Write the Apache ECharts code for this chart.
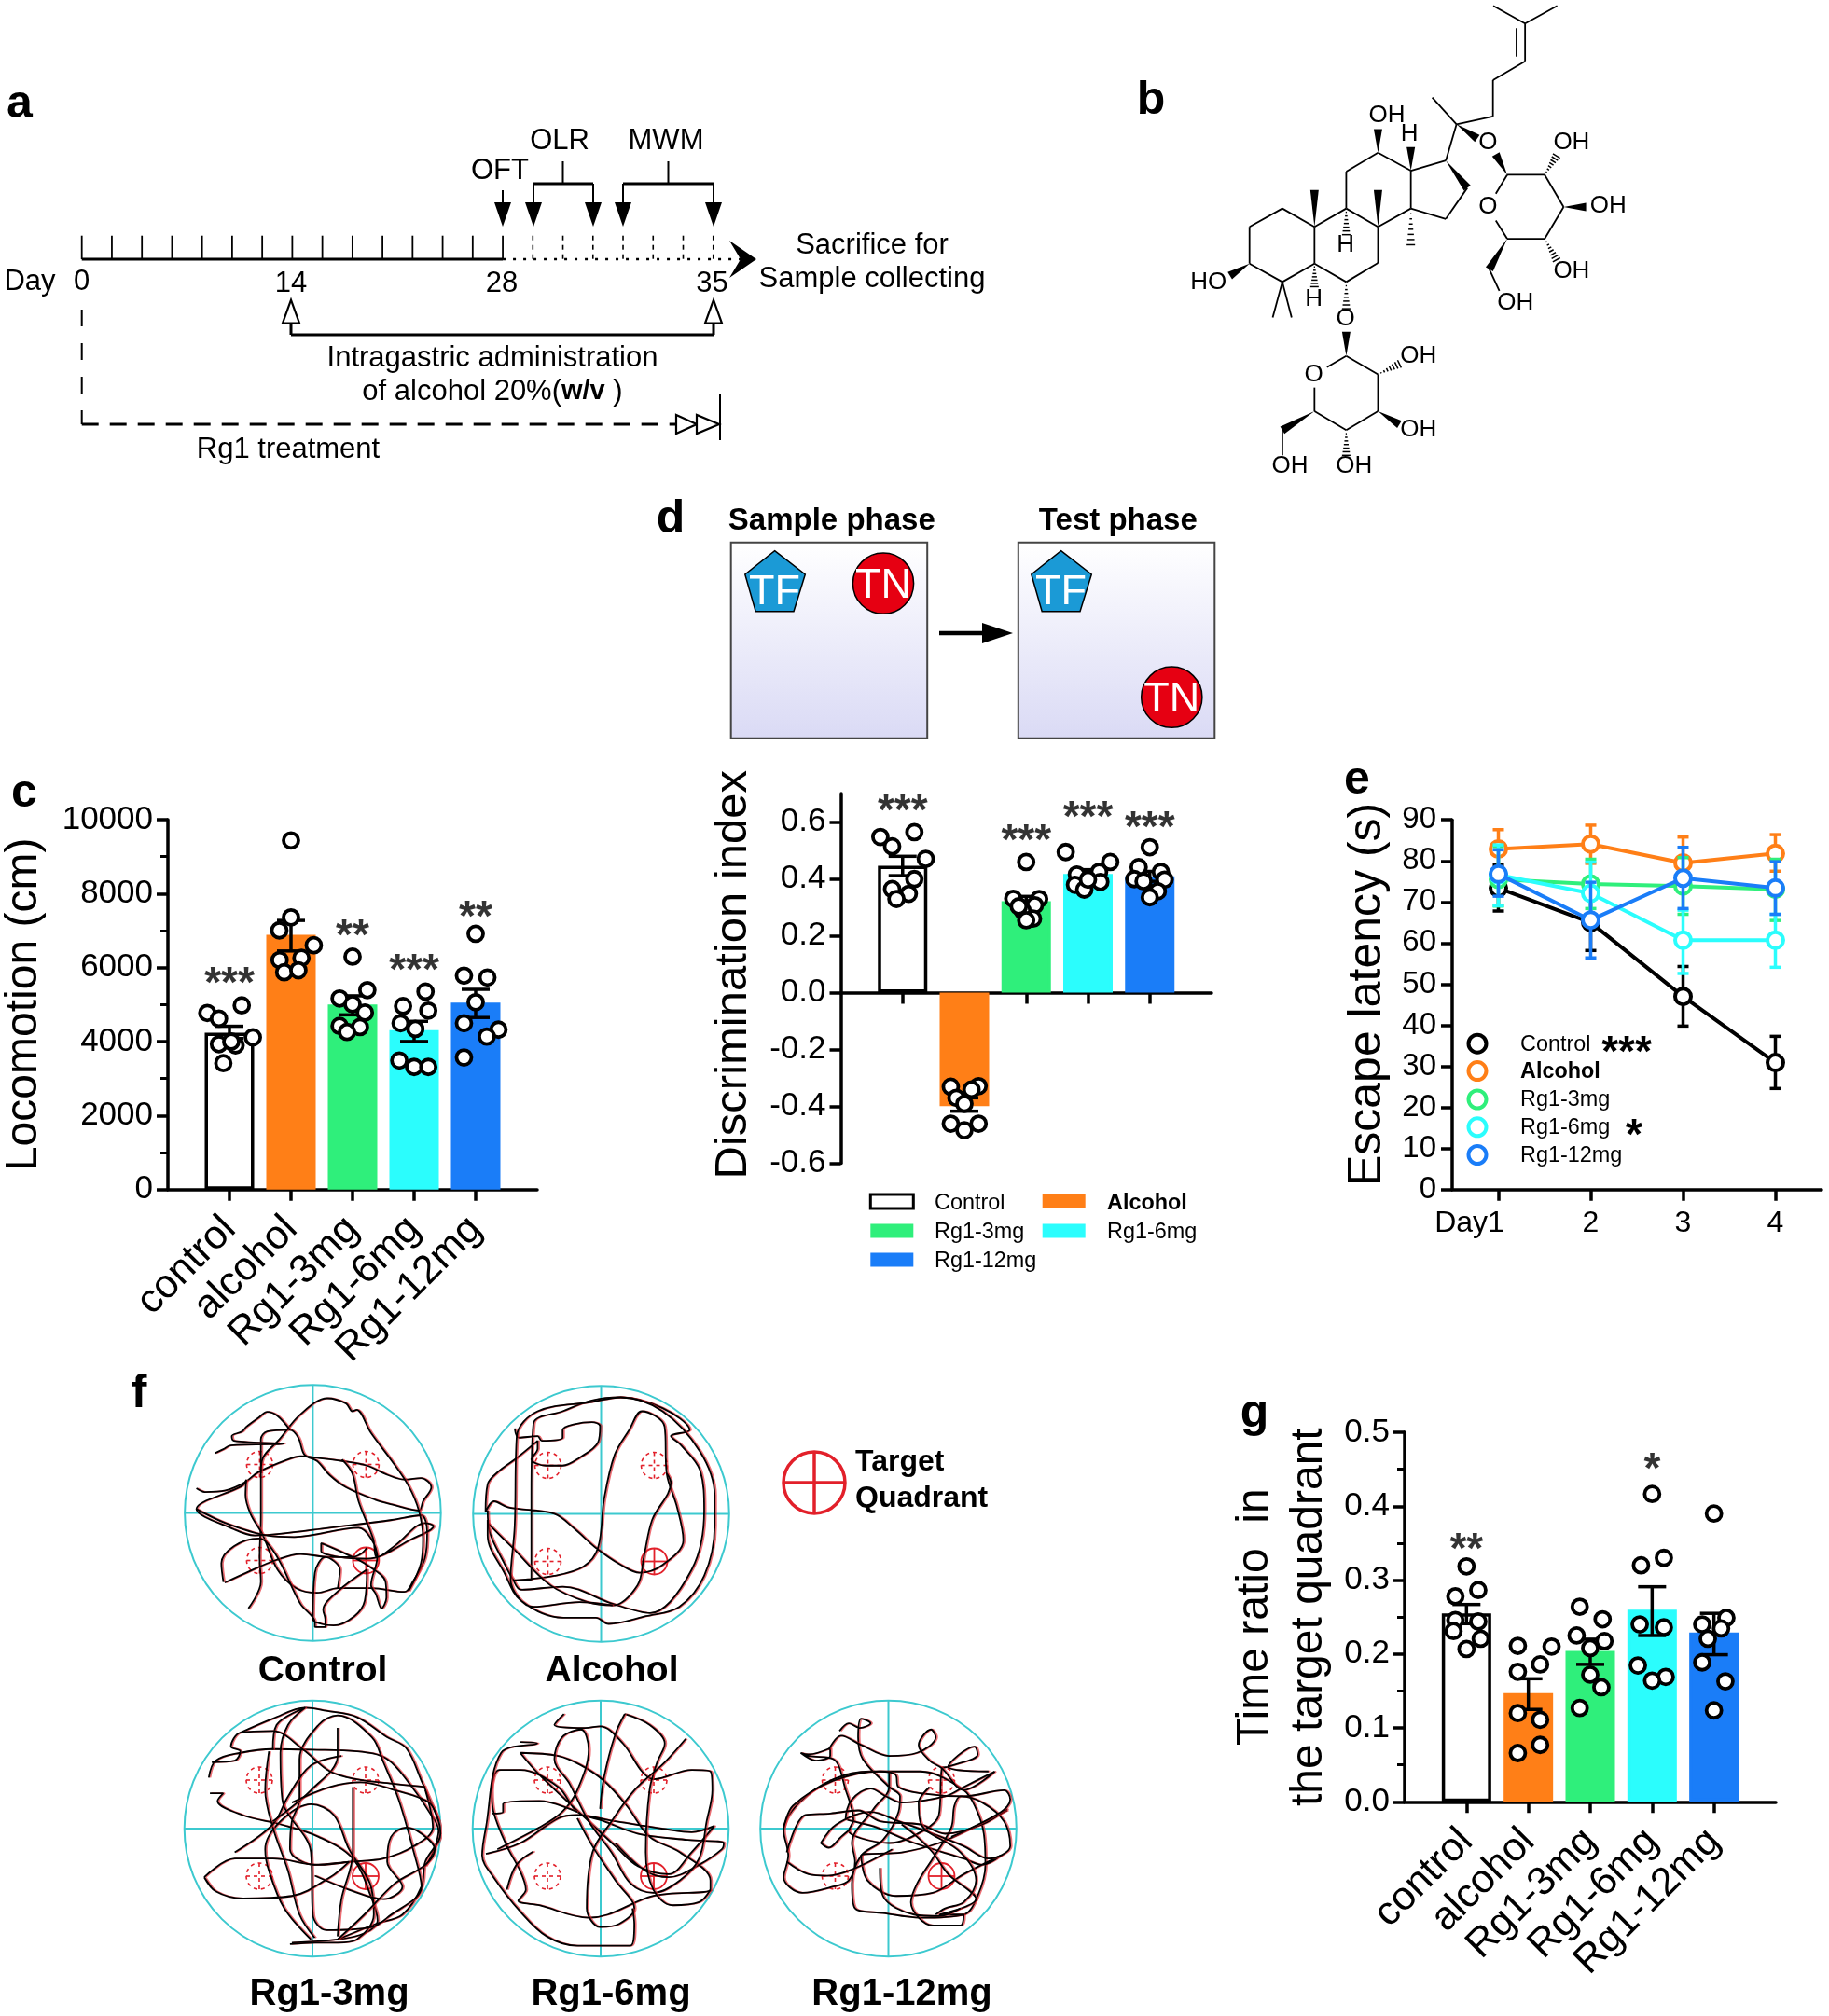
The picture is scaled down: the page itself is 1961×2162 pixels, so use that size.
<!DOCTYPE html>
<html><head><meta charset="utf-8"><style>html,body{margin:0;padding:0;background:#fff}#m{width:1961px;height:2162px}</style>
<script src="https://cdn.jsdelivr.net/npm/echarts@6/dist/echarts.min.js"></script></head>
<body><div id="m"></div><script>
// ---------- data ----------
const groupsLower=['control','alcohol','Rg1-3mg','Rg1-6mg','Rg1-12mg'];
const groupPositions=[0,1,2,3,4];
const cMeans=[4240,6885,5000,4311,5052];
const cErrHigh=[4415,7275,5237,4548,5412];
const cErrLow=[4085,6450,4723,4003,4651];
const cDots=[[-.36,4775],[-.17,4620],[.2,4980],[.38,4116],[-.17,3930],[.1,3900],[-.1,3416],[.03,4000],
[1,9436],[1,7357],[.81,7007],[1.37,6606],[.815,6205],[1.17,6266],[.89,5875],[1.12,5927],
[2,6297],[2.24,5392],[1.79,5165],[2,5011],[2.2,4785],[1.79,4425],[2.12,4394],[1.91,4260],
[3.185,5351],[2.82,4960],[3.23,4836],[2.78,4497],[3.02,4342],[2.76,3488],[3,3313],[3.23,3313],
[4,6915],[3.81,5783],[4.19,5731],[4,5063],[3.81,4497],[4.37,4322],[4.18,4136],[3.81,3570]];
const cStars=[[0,5783,'***'],[2,7069,'**'],[3,6123,'***'],[4,7584,'**']];

const dMeans=[.446,-.399,.321,.417,.409];
const dErrHigh=[.479,-.37,.338,.432,.426];
const dErrLow=[.411,-.417,.303,.403,.391];
const dDots=[[-.36,.547],[.19,.564],[-.17,.514],[.375,.47],[.19,.399],[-.17,.364],[.1,.347],[-.1,.329],
[.78,-.331],[1.23,-.329],[1.115,-.341],[.87,-.37],[1,-.391],[.78,-.461],[1.23,-.461],[1,-.484],
[2,.459],[1.79,.33],[2.21,.329],[2.14,.307],[1.94,.288],[2.11,.26],[2,.254],[1.88,.303],
[2.64,.494],[3.36,.459],[3.18,.424],[2.82,.415],[2.79,.379],[3.2,.389],[2.94,.362],[3,.397],
[4,.511],[3.82,.441],[4.18,.424],[3.75,.399],[4.24,.397],[3.9,.391],[4.13,.356],[4,.335]];
const dStars=[[0,.666,'***'],[2,.561,'***'],[3,.643,'***'],[4,.608,'***']];
const dYTicks=[-.6,-.4,-.2,0,.2,.4,.6];

const gMeans=[.255,.147,.204,.26,.229];
const gErrHigh=[.267,.1665,.22,.291,.255];
const gErrLow=[.241,.125,.186,.225,.199];
const gDots=[[0,.3186],[.19,.2866],[-.18,.278],[-.18,.246],[.19,.244],[-.21,.231],[.23,.2206],[0,.2067],
[.83,.211],[1.375,.21],[1.19,.186],[.83,.176],[.83,.12],[1.19,.111],[1.19,.077],[.83,.066],
[1.83,.264],[2.2,.247],[1.78,.225],[2.23,.2175],[2,.208],[2,.172],[2.18,.155],[1.83,.127],
[3,.4165],[3.19,.33],[2.82,.32],[2.8,.24],[3.19,.236],[2.77,.1845],[3.22,.169],[3,.164],
[4,.39],[4.2,.249],[3.81,.24],[4.115,.2345],[3.9,.2206],[3.81,.1887],[4.185,.163],[4,.1237]];
const gStars=[[0,.352,'**'],[3,.46,'*']];

const eDays=[1,2,3,4];
const eNames=['Control','Alcohol','Rg1-3mg','Rg1-6mg','Rg1-12mg'];
const eControl=[73.4,65,47,30.9],eControlHigh=[79,72,54.3,37.3],eControlLow=[67.8,58.2,39.8,24.6];
const eAlcohol=[82.9,84.1,79.5,81.8],eAlcoholHigh=[87.6,88.7,85.8,86.4],eAlcoholLow=[78,79.4,73,77.5];
const eRg3=[75.5,74.4,73.9,73.1],eRg3High=[83.5,80.4,80.8,80.4],eRg3Low=[69,68.4,67,65.5];
const eRg6=[76.6,72.1,60.7,60.7],eRg6High=[83.9,79.7,68,67],eRg6Low=[69.1,64.7,52.6,54.1];
const eRg12=[76.8,65.6,75.8,73.4],eRg12High=[82.7,74.8,83.3,79.8],eRg12Low=[71.4,56.4,68.4,67];

// traces, in each arena's own reading units
const trackControl=[[[180,378],[200,390],[250,385],[295,360],[330,325],[400,285],[430,275],[470,280],[530,290],[590,305],[640,335],[680,350],[720,345],[745,375],[725,420],[715,450],[650,430],[610,415],[540,375],[500,335],[470,290],[440,270],[425,215],[405,190],[350,195],[335,220],[335,330],[335,470],[332,600],[335,680],[305,765]],
[[300,350],[298,400],[310,460],[340,530],[375,640],[420,700],[470,715],[520,700],[600,700],[680,712],[700,680],[730,600],[735,520],[720,465],[650,480],[500,505],[380,525],[320,530],[270,510],[180,445],[290,370],[300,350]],
[[180,445],[250,490],[350,530],[415,535],[570,505],[600,540],[615,600],[600,690],[612,720],[625,765],[637,730],[635,680],[590,625],[540,590],[480,555],[480,580],[525,600],[590,605],[700,540],[750,500],[730,490],[660,560],[615,600],[605,540],[570,420],[555,330],[530,285]],
[[248,682],[300,650],[370,610],[430,590],[500,600],[555,600],[575,590],[590,570]],
[[245,680],[240,620],[270,565],[330,540],[370,590],[430,750],[465,810],[465,825],[490,825],[490,800],[485,770],[520,710],[590,640],[585,740],[560,790],[510,820],[480,815],[460,800],[465,650],[490,600],[525,640],[520,700]],
[[335,330],[340,280],[380,220],[430,140],[495,88],[540,105],[555,130],[565,125],[600,200],[650,290],[690,370],[715,450],[725,540],[720,620],[690,710]],
[[225,265],[245,252],[262,240],[390,235],[270,225],[265,210],[290,195],[300,180],[330,150],[350,132],[375,145],[405,190]]];
const trackAlcohol=[[[945,185],[955,215],[1000,210],[1010,225],[1060,215],[1060,190],[1130,165],[1150,178],[1145,230],[1100,280],[1060,305],[1020,305],[985,285],[1000,250],[1000,225],[950,280],[905,325],[880,365],[875,455],[895,420],[930,440],[1040,460],[1090,510],[1140,570],[1200,625],[1245,650],[1300,625],[1350,545],[1335,440],[1310,330],[1305,180],[1250,130],[1220,190],[1185,270],[1160,410],[1145,570],[1110,630],[1040,660],[940,675],[985,675],[985,400],[990,170],[1060,130],[1130,95],[1200,85],[1300,120],[1365,190],[1320,210],[1345,240],[1390,320],[1400,450],[1370,640],[1270,780],[1180,750],[1060,695],[960,705],[940,670],[920,620],[885,520],[880,450]],
[[880,490],[940,570],[1030,690],[1120,745],[1180,755],[1240,690],[1255,600],[1275,480],[1320,360],[1310,330]],
[[880,480],[880,530],[920,650],[960,740],[1060,795],[1140,795],[1170,815],[1260,790],[1340,760],[1400,660],[1425,500],[1425,400],[1390,260],[1300,130],[1200,85],[1130,100],[1000,130],[950,210],[945,500],[935,670],[990,760],[1100,745],[1180,755]]];
const trackRg3=[[[132,260],[150,205],[215,180],[300,168],[400,170],[520,175],[600,200],[665,290],[710,370],[735,430],[720,500],[700,545]],
[[135,310],[170,310],[155,335],[220,380],[320,410],[420,450],[510,520],[560,650],[575,720],[540,760],[470,780],[350,790]],
[[215,115],[300,70],[385,35],[440,45],[520,65],[600,130],[650,165],[690,270],[735,400],[740,440],[700,530],[690,610],[640,700],[570,730],[470,780]],
[[345,795],[410,790],[470,790],[520,780],[565,700],[555,600],[500,490],[460,380],[400,345],[320,400],[280,490],[290,560],[330,680],[400,780]],
[[300,170],[310,90],[385,35],[340,90],[320,180],[325,330],[400,500],[405,700],[440,750],[560,740],[600,710],[690,610],[670,500],[630,330],[590,210],[560,130],[470,60],[420,90],[370,200],[370,330],[350,400],[345,490],[410,540],[500,530],[590,520],[670,480],[720,420],[700,300]],
[[290,175],[280,300],[300,420],[340,560],[370,700],[410,775]],
[[120,580],[200,520],[300,520],[420,540],[500,530],[450,580],[350,640],[220,648],[150,625],[120,580],[140,615]],
[[410,575],[500,620],[590,650],[640,610],[600,530],[610,450],[650,420],[690,440],[725,490],[700,540],[620,600],[540,700],[470,780]],
[[510,290],[510,500],[480,650],[470,770]],
[[480,190],[400,220],[340,320],[300,410],[200,500]],[[300,400],[400,300],[470,190],[470,100]],
[[140,210],[200,205],[215,175],[190,160],[215,115],[300,110],[380,170],[450,240],[520,265],[620,280],[700,290]],
[[350,340],[450,290],[530,275],[620,300],[710,340],[735,400]]];
const trackRg6=[[[860,505],[950,470],[1050,390],[1100,380],[1200,400],[1330,425],[1400,435],[1460,415],[1400,500],[1340,570],[1260,545],[1200,480],[1130,400],[1000,250],[950,180],[1050,190],[1110,220],[1170,270],[1230,350],[1290,450],[1370,500],[1450,590],[1450,620],[1300,640],[1180,700],[1130,710],[1000,670],[945,655],[965,620],[950,560],[915,480],[880,370],[875,300],[895,235],[950,235],[1050,290],[1100,370],[1170,400],[1260,440],[1390,460],[1485,470],[1480,490],[1420,540],[1340,580],[1280,560],[1200,470]],
[[1065,55],[1040,90],[1120,100],[1160,95],[1220,150],[1270,240],[1300,265],[1400,235],[1450,240],[1455,300],[1440,400],[1420,520],[1370,590],[1300,630],[1240,600],[1190,500],[1130,400],[1080,280],[1040,200],[1060,130],[1110,105],[1130,170],[1100,300],[1060,370],[1000,420],[890,490]],
[[1225,55],[1290,90],[1330,150],[1310,210],[1290,300],[1280,500],[1300,620],[1350,670],[1420,660],[1450,620]],
[[1385,135],[1330,210],[1250,300],[1190,400],[1140,500],[1125,680],[1160,740],[1210,730],[1250,680],[1200,590],[1140,480],[1100,390]],
[[1225,55],[1200,120],[1170,260],[1160,360]],[[985,497],[940,540],[915,620]],
[[950,145],[995,150],[900,180],[860,420],[850,510],[880,580],[950,690],[1020,770],[1100,800],[1240,800],[1250,730],[1245,680]],
[[875,375],[905,370],[905,345],[1000,335],[1100,370]]];
const trackRg12=[[[175,180],[200,185],[270,165],[270,190],[225,205],[175,180],[200,190],[280,200],[320,300],[345,395],[330,430],[370,455],[460,470],[570,430],[620,380],[630,230],[650,225],[745,185],[735,160],[650,225],[780,240]],
[[300,110],[330,85],[365,100],[400,85],[370,70],[360,130],[375,200],[460,290],[495,320],[490,370],[440,460],[370,510],[340,600],[350,680],[440,695],[560,710],[700,700],[745,640],[770,540],[765,440],[740,360],[700,300],[560,240],[400,240],[280,265],[170,340],[120,430],[135,510],[120,580],[180,630],[280,610],[330,590],[350,530],[340,470],[410,360],[460,290],[460,240]],
[[265,170],[305,125],[370,155],[460,190],[550,180],[610,130],[595,105],[555,155],[590,205],[630,230],[700,300],[800,240],[700,290],[640,320],[500,340],[450,320],[400,295],[340,330],[320,390],[345,400],[420,420],[540,470],[700,520],[760,540],[820,510],[700,570],[600,630],[480,640],[390,590],[370,510],[500,500],[620,470],[730,420],[840,365]],
[[240,470],[290,410],[400,370],[490,400],[600,440],[700,480],[780,520],[850,480],[830,400],[760,340],[690,320],[670,350],[660,420],[600,520],[550,600],[530,660],[600,735],[690,735],[700,700],[620,700],[740,650],[650,570],[600,500],[550,450],[500,410]],
[[240,470],[265,485],[305,450],[335,425]],[[130,530],[200,570],[260,575],[340,555],[470,490]],
[[130,500],[190,380],[270,375],[360,365],[430,400],[560,410],[640,440],[760,410],[840,360]],
[[120,420],[150,350],[280,270],[430,240],[480,250],[490,290],[560,310],[700,320],[830,300],[850,330],[820,370],[660,450]],
[[430,550],[440,640],[540,700],[620,705],[690,680]],
[[590,290],[555,340],[560,400],[580,430],[690,500],[740,590],[700,660],[640,680],[610,700]]];

// ---------- style ----------
const FONT='"Liberation Sans",Arial,sans-serif';
const BLACK='#000',ORANGE='#FF7F17',GREEN='#2FEF7B',CYAN='#2BFDFD',BLUE='#1A7DF8',TEAL='#3CC9CF',RED='#E2202A';
const barColors=['#fff',ORANGE,GREEN,CYAN,BLUE];
const axisLine={show:true,onZero:false,lineStyle:{color:BLACK,width:3.5}};
const grids=[],xAxes=[],yAxes=[],series=[];

function errSeries(gi,points,color,half,z,lw){
 return {type:'custom',xAxisIndex:gi,yAxisIndex:gi,z,silent:true,clip:false,data:points,encode:{x:0,y:[1,2]},
  renderItem(p,api){const x=api.value(0),a=api.coord([x,api.value(1)]),b=api.coord([x,api.value(2)]);
   const st={stroke:color,lineWidth:lw||3.5,fill:null};
   return {type:'group',children:[
    {type:'line',shape:{x1:a[0],y1:a[1],x2:b[0],y2:b[1]},style:st},
    {type:'line',shape:{x1:a[0]-half,y1:a[1],x2:a[0]+half,y2:a[1]},style:st},
    {type:'line',shape:{x1:b[0]-half,y1:b[1],x2:b[0]+half,y2:b[1]},style:st}]};}};
}
function barPanel(o){
 const gi=grids.length;
 grids.push({left:o.left,top:o.top,width:o.width,height:o.height,outerBoundsMode:'none'});
 xAxes.push({type:'value',gridIndex:gi,min:-1,max:5,interval:1,axisLine:{show:true,lineStyle:{color:BLACK,width:3.5}},
  axisTick:{show:true,length:12,lineStyle:{color:BLACK,width:3.5},customValues:groupPositions},splitLine:{show:false},
  axisLabel:o.labels?{show:true,customValues:groupPositions,rotate:45,margin:o.labelMargin,fontSize:o.labelSize,color:BLACK,fontFamily:FONT,formatter:v=>o.labels[v]}:{show:false}});
 yAxes.push({type:'value',gridIndex:gi,min:o.min,max:o.max,interval:o.interval,name:o.name,nameLocation:'middle',nameGap:o.nameGap,
  nameTextStyle:{fontSize:o.nameSize||48,color:BLACK,fontFamily:FONT,lineHeight:o.nameLine||58,padding:o.namePad||0},
  axisLine,axisTick:Object.assign({show:true,length:12,lineStyle:{color:BLACK,width:3.5}},o.yTicks?{customValues:o.yTicks}:{}),
  minorTick:{show:!!o.minor,splitNumber:2,length:8,lineStyle:{color:BLACK,width:3}},splitLine:{show:false},
  axisLabel:Object.assign({margin:16,fontSize:35,color:BLACK,fontFamily:FONT,formatter:o.fmt},o.yTicks?{customValues:o.yTicks}:{})});
 series.push({type:'bar',xAxisIndex:gi,yAxisIndex:gi,barWidth:53,z:2,silent:true,
  data:o.means.map((v,i)=>({value:[groupPositions[i],v],itemStyle:{color:barColors[i],borderColor:i?barColors[i]:BLACK,borderWidth:3.5}}))});
 series.push(errSeries(gi,o.means.map((v,i)=>[groupPositions[i],o.hi[i],o.lo[i]]),BLACK,15,3));
 series.push({type:'scatter',xAxisIndex:gi,yAxisIndex:gi,z:4,silent:true,symbolSize:16,data:o.dots,clip:false,
  itemStyle:{color:'#fff',borderColor:BLACK,borderWidth:3.8,opacity:1}});
 series.push({type:'scatter',xAxisIndex:gi,yAxisIndex:gi,z:5,silent:true,symbolSize:0,clip:false,data:o.stars,
  label:{show:true,position:'inside',offset:[0,10],fontSize:46,fontWeight:'bold',color:BLACK,fontFamily:FONT,formatter:p=>p.data[2]}});
}
barPanel({left:180,top:879,width:396,height:396.7,min:0,max:10000,interval:2000,minor:true,name:'Locomotion (cm)',nameGap:125,fmt:v=>String(v),
 labels:groupsLower,labelMargin:36,labelSize:43,means:cMeans,hi:cErrHigh,lo:cErrLow,dots:cDots,stars:cStars});
barPanel({left:901.5,top:850.9,width:397.5,height:396.6,min:-.6,max:.7,interval:.2,name:'Discrimination index',nameGap:86,nameSize:49,namePad:[0,0,0,8],yTicks:dYTicks,
 fmt:v=>v.toFixed(1),means:dMeans,hi:dErrHigh,lo:dErrLow,dots:dDots,stars:dStars});
barPanel({left:1506,top:1536,width:398,height:396.3,min:0,max:.5,interval:.1,minor:true,name:'Time ratio  in\nthe target quadrant',nameGap:73,nameLine:58,
 fmt:v=>v.toFixed(1),labels:groupsLower,labelMargin:36,labelSize:43,means:gMeans,hi:gErrHigh,lo:gErrLow,dots:gDots,stars:gStars});

// panel e
(function(){
 const gi=grids.length;
 grids.push({left:1557,top:879.2,width:396,height:396.5,outerBoundsMode:'none'});
 xAxes.push({type:'value',gridIndex:gi,min:.5,max:4.5,interval:1,axisLine:{show:true,lineStyle:{color:BLACK,width:3.5}},splitLine:{show:false},
  axisTick:{show:true,length:12,lineStyle:{color:BLACK,width:3.5},customValues:eDays},
  axisLabel:{customValues:eDays,fontSize:32,color:BLACK,fontFamily:FONT,margin:20,alignMinLabel:'center',formatter:v=>v===1?'{d|Day1}':String(v),
   rich:{d:{fontSize:32,color:BLACK,fontFamily:FONT,padding:[0,62,0,0]}}}});
 yAxes.push({type:'value',gridIndex:gi,min:0,max:90,interval:10,name:'Escape latency (s)',nameLocation:'middle',nameGap:66,
  nameTextStyle:{fontSize:50,color:BLACK,fontFamily:FONT,padding:[0,0,0,22]},axisLine,axisTick:{show:true,length:12,lineStyle:{color:BLACK,width:3.5}},splitLine:{show:false},
  axisLabel:{margin:17,fontSize:33,color:BLACK,fontFamily:FONT}});
 const sets=[[eControl,eControlHigh,eControlLow,BLACK],[eAlcohol,eAlcoholHigh,eAlcoholLow,ORANGE],[eRg3,eRg3High,eRg3Low,GREEN],[eRg6,eRg6High,eRg6Low,CYAN],[eRg12,eRg12High,eRg12Low,BLUE]];
 sets.forEach((s,k)=>{
  series.push(errSeries(gi,eDays.map((d,i)=>[d,s[1][i],s[2][i]]),s[3],6,2+2*k,3.5));
  series.push({type:'line',name:eNames[k],xAxisIndex:gi,yAxisIndex:gi,z:3+2*k,silent:true,data:eDays.map((d,i)=>[d,s[0][i]]),symbol:'circle',symbolSize:17,showSymbol:true,
   lineStyle:{color:s[3],width:4},itemStyle:{color:'#fff',borderColor:s[3],borderWidth:4,opacity:1}});
 });
})();

// panel f arenas
function arena(cx,cy,xr,yr,tracks){
 const gi=grids.length;const r=137.3;
 grids.push({left:cx-r,top:cy-r,width:2*r,height:2*r,outerBoundsMode:'none'});
 xAxes.push({type:'value',gridIndex:gi,min:xr[0],max:xr[1],show:false});
 yAxes.push({type:'value',gridIndex:gi,min:yr[0],max:yr[1],inverse:true,show:false});
 tracks.forEach(t=>series.push({type:'line',xAxisIndex:gi,yAxisIndex:gi,data:t,showSymbol:false,smooth:.35,clip:false,silent:true,z:3,
  lineStyle:{color:'#000',width:1.8,shadowColor:'rgba(226,32,42,.65)',shadowBlur:0,shadowOffsetX:1.6}}));
}
arena(335.4,1622.5,[152,768],[45,870],trackControl);
arena(644.5,1623.5,[845,1460],[48,873],trackAlcohol);
arena(335,1961,[68,740],[12,835],trackRg3);
arena(644,1961,[825,1498],[12,835],trackRg6);
arena(952.5,1961,[45,870],[12,835],trackRg12);

// ---------- schematic drawing ----------
const G=[];
const T=(t,x,y,size,o={})=>G.push({type:'text',x,y,z:20,silent:true,style:Object.assign({text:t,fontFamily:FONT,fontSize:size,fontWeight:o.bold?'bold':'normal',fill:o.fill||BLACK,textAlign:o.align||'center',textVerticalAlign:'middle'},o.style||{})});
const L=(x1,y1,x2,y2,w=2,c=BLACK,dash)=>G.push({type:'line',z:1,silent:true,shape:{x1,y1,x2,y2},style:{stroke:c,lineWidth:w,lineDash:dash||null}});
const P=(pts,fill,stroke,w=2,z=1)=>G.push({type:'polygon',z,silent:true,shape:{points:pts},style:{fill:fill||'none',stroke:stroke||null,lineWidth:w}});
const C=(x,y,r,fill,stroke,w=2,dash,z=10)=>G.push({type:'circle',z,silent:true,shape:{cx:x,cy:y,r},style:{fill:fill||'none',stroke,lineWidth:w,lineDash:dash||null}});

// letters
[['a',21,112],['b',1234,108],['c',26,851],['d',719,557],['e',1455,837],['f',149,1495],['g',1345,1516]].forEach(a=>T(a[0],a[1],a[2],50,{bold:true}));

// panel a
const ax=d=>87.7+d*16.12, TLY=278;
L(ax(0),TLY,ax(28),TLY,3);
for(let i=0;i<=28;i+=2)L(ax(i),252.7,ax(i),TLY,1.8);
L(ax(28),TLY,795,TLY,2.5,BLACK,[3,8]);
for(let i=30;i<=42;i+=2)L(ax(i),252.7,ax(i),TLY,1.6,BLACK,[5,5]);
P([[782,258],[811,278],[782,298],[794,278]],BLACK);
T('Day',32,302.5,31);T('0',87.7,302.5,31);T('14',312,304,31);T('28',538,304,31);T('35',763.5,304,31);
T('OFT',536,183,31);T('OLR',600,151,31);T('MWM',714,151,31);
const downArrow=(x,top)=>{L(x,top,x,220,2);P([[x-9,217],[x+9,217],[x,243]],BLACK);};
downArrow(539,204);
downArrow(572,197);downArrow(636,197);downArrow(668,197);downArrow(765,197);
L(572,197,636,197,3);L(668,197,765,197,3);L(603.5,173,603.5,197,2);L(716.5,173,716.5,197,2);
T('Sacrifice for',935,263,31);T('Sample collecting',935,299,31);
const openUp=x=>{P([[x-9,346.7],[x+9,346.7],[x,321.7]],'#fff',BLACK,2.2);L(x,346.7,x,359,3);};
openUp(312);openUp(765);L(312,359,765,359,3);
T('Intragastric administration',528,384,31);
T('of alcohol 20%({b|w/v} )',528,420,31,{style:{rich:{b:{fontFamily:FONT,fontSize:29,fontWeight:'bold'}}}});
L(87.7,332,87.7,455,2,BLACK,[18,18]);L(87.7,455,725,455,3,BLACK,[18,12]);
P([[725,445],[725,465],[747,455]],'#fff',BLACK,2.2);P([[747,445],[747,465],[771,455]],'#fff',BLACK,2.2);
L(772,422,772,472,2);
T('Rg1 treatment',309,482,31);

// panel b
const bx=z=>1200+z/2.613,by=z=>z/2.958+1.5;
const chain=(...pts)=>{for(let i=1;i<pts.length;i++)L(bx(pts[i-1][0]),by(pts[i-1][1]),bx(pts[i][0]),by(pts[i][1]),1.8);};
const wedge=(a,b)=>{const x1=bx(a[0]),y1=by(a[1]),x2=bx(b[0]),y2=by(b[1]),d=Math.hypot(x2-x1,y2-y1),nx=-(y2-y1)/d*4.5,ny=(x2-x1)/d*4.5;P([[x1,y1],[x2+nx,y2+ny],[x2-nx,y2-ny]],BLACK);};
const hash=(a,b)=>{const x1=bx(a[0]),y1=by(a[1]),x2=bx(b[0]),y2=by(b[1]),d=Math.hypot(x2-x1,y2-y1),ux=-(y2-y1)/d,uy=(x2-x1)/d;for(let i=1;i<=7;i++){const t=i/7,x=x1+(x2-x1)*t,y=y1+(y2-y1)*t,h=t*4.5;L(x-ux*h,y-uy*h,x+ux*h,y+uy*h,1.5);}};
chain([365,715],[457,657],[547,715],[547,832],[457,890],[365,832],[365,715]);
chain([547,715],[636,657],[725,715],[725,830],[636,890],[547,832]);
chain([636,657],[636,540],[725,480],[817,537],[817,657],[725,715]);
chain([817,537],[915,505]);chain([975,592],[915,690],[817,657]);wedge([915,505],[975,592]);
wedge([547,715],[547,598]);wedge([725,715],[725,598]);hash([817,657],[817,772]);wedge([365,832],[310,870]);
chain([430,1003],[457,890],[483,1003]);hash([636,657],[636,740]);hash([547,832],[547,905]);hash([636,890],[636,975]);
wedge([725,480],[725,405]);wedge([817,537],[817,462]);
chain([915,505],[945,390],[877,305]);wedge([945,390],[1003,435]);chain([945,390],[1047,365],[1047,250],[1137,190],[1137,70],[1048,14]);chain([1137,70],[1227,14]);chain([1113,175],[1113,85]);
wedge([1087,550],[1055,485]);chain([1055,610],[1087,550],[1192,550],[1245,652],[1192,753],[1087,753],[1055,695]);
hash([1192,550],[1225,490]);wedge([1245,652],[1308,652]);hash([1192,753],[1225,820]);wedge([1087,753],[1037,850]);chain([1037,850],[1065,918]);
wedge([636,1125],[636,1048]);chain([582,1160],[636,1125],[725,1183],[725,1300],[636,1360],[547,1300],[547,1225]);
hash([725,1183],[785,1150]);wedge([725,1300],[785,1342]);hash([636,1360],[636,1440]);wedge([547,1300],[457,1360]);chain([457,1360],[457,1440]);
[['OH',750,362],['H',813,420],['H',634,772],['H',545,945],['O',634,1008],['HO',250,890],['O',1033,447],['OH',1267,447],['O',1033,652],['OH',1370,650],['OH',1267,855],['OH',1110,955],['O',545,1183],['OH',838,1125],['OH',838,1358],['OH',478,1475],['OH',658,1475]].forEach(a=>T(a[0],bx(a[1]),by(a[2]),26));

// panel d diagram
const boxFill={type:'linear',x:0,y:0,x2:0,y2:1,colorStops:[{offset:0,color:'#FFFFFF'},{offset:1,color:'#DADAF5'}]};
[783.7,1091.8].forEach(x=>G.push({type:'rect',z:1,silent:true,shape:{x,y:581.7,width:210.5,height:210},style:{fill:boxFill,stroke:'#444',lineWidth:2}}));
T('Sample phase',891.8,559,33,{bold:true});T('Test phase',1198.8,559,33,{bold:true});
[0,307].forEach(dx=>{P([[830.6+dx,590.7],[863.3+dx,616],[851+dx,655.7],[810.2+dx,655.7],[798.8+dx,616]],'#1B9AD6',BLACK,1.5,2);T('TF',830.6+dx,636,45,{fill:'#fff'});});
[[947,625.7],[1256.3,747.7]].forEach(p=>{C(p[0],p[1],32.6,'#E60012',BLACK,1.5,null,2);T('TN',p[0],p[1]+3,45,{fill:'#fff'});});
L(1007,679,1055,679,4.5);P([[1053,668],[1053,690],[1086,679]],BLACK);

// panel d legend
const dLeg=[['Control',933.3,1002,1288.6],['Alcohol',1117.7,1187,1288.6],['Rg1-3mg',933.3,1002,1320],['Rg1-6mg',1117.7,1187,1320],['Rg1-12mg',933.3,1002,1351]];
dLeg.forEach((r,i)=>{G.push({type:'rect',z:2,silent:true,shape:{x:r[1],y:r[3]-7.5,width:46,height:15},style:i?{fill:barColors[i]}:{fill:'#fff',stroke:BLACK,lineWidth:3}});T(r[0],r[2],r[3]+1.5,23.4,{align:'left',bold:i===1});});

// panel e legend
[BLACK,ORANGE,GREEN,CYAN,BLUE].forEach((c,i)=>{const y=[1119.2,1148.6,1179,1208.8,1238.5][i];C(1584,y,9.5,'#fff',c,4);T(eNames[i],1630,y+1,23.4,{align:'left',bold:i===1});});
T('***',1744,1130,46,{bold:true});T('*',1752,1219,46,{bold:true});

// panel f furniture
function arenaFrame(cx,cy){const r=137.3;
 C(cx,cy,r,null,TEAL,2,null,2);L(cx-r,cy,cx+r,cy,2,TEAL);L(cx,cy-r,cx,cy+r,2,TEAL);
 [[-57,-52],[57,-52],[-57,51],[57,51]].forEach((p,i)=>{const x=cx+p[0],y=cy+p[1];
  if(i<3){C(x,y,14,null,RED,1.6,[4,4],2);L(x-14,y,x+14,y,1.6,RED,[4,4]);L(x,y-14,x,y+14,1.6,RED,[4,4]);}
  else{C(x,y,14,null,RED,1.8,null,2);L(x-14,y,x+14,y,1.8,RED);L(x,y-14,x,y+14,1.8,RED);}});
}
[[335.4,1622.5],[644.5,1623.5],[335,1961],[644,1961],[952.5,1961]].forEach(c=>arenaFrame(c[0],c[1]));
T('Control',346,1792,39,{bold:true});T('Alcohol',656,1792,39,{bold:true});
T('Rg1-3mg',353,2139,40,{bold:true});T('Rg1-6mg',655,2139,40,{bold:true});T('Rg1-12mg',967,2139,40,{bold:true});
C(873,1590,33,null,RED,3.5,null,2);L(840,1590,906,1590,3.5,RED);L(873,1557,873,1623,3.5,RED);
T('Target',917,1568,32,{bold:true,align:'left'});T('Quadrant',917,1607,32,{bold:true,align:'left'});

const chart=echarts.init(document.getElementById('m'),null,{renderer:'canvas'});
chart.setOption({animation:false,backgroundColor:'#fff',textStyle:{fontFamily:FONT},grid:grids,xAxis:xAxes,yAxis:yAxes,series,tooltip:{show:false},graphic:{elements:G}});
</script></body></html>
